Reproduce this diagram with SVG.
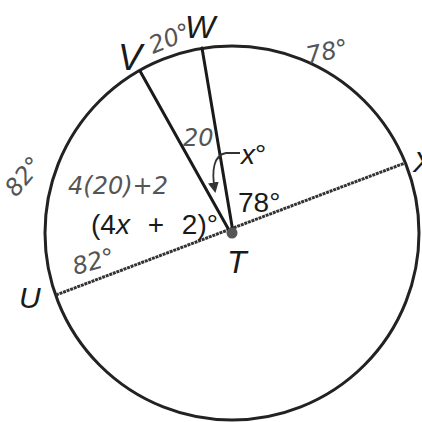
<svg xmlns="http://www.w3.org/2000/svg" width="422" height="422" viewBox="0 0 422 422">
<style>
.pt{font-family:"Liberation Sans",Arial,sans-serif;font-style:italic;fill:#1a1a1a}
.lbl{font-family:"Liberation Sans",Arial,sans-serif;font-size:28px;fill:#1a1a1a}
.hw{font-family:"DejaVu Sans","Liberation Sans",sans-serif;font-size:24px;fill:#555;font-style:italic}
.rad{stroke:#1a1a1a;stroke-width:3;fill:none;stroke-linecap:round}
</style>
<defs>
<marker id="ah" viewBox="0 0 10 10" refX="8" refY="5" markerWidth="6" markerHeight="6" orient="auto">
<path d="M0,0 L10,5 L0,10 z" fill="#333"/>
</marker>
</defs>
<rect width="422" height="422" fill="#fff"/>
<g id="circle">
<circle cx="232" cy="233" r="187" fill="none" stroke="#222" stroke-width="3"/>
</g>
<g id="connectors">
<line x1="56" y1="295" x2="405" y2="163" stroke="#333" stroke-width="3" stroke-dasharray="3 0.8"/>
<line class="rad" x1="140" y1="71" x2="230" y2="232"/>
<line class="rad" x1="202" y1="48" x2="233" y2="232"/>
<path d="M240 153 H226 C214 155 211 170 215 191" fill="none" stroke="#333" stroke-width="1.8" marker-end="url(#ah)"/>
</g>
<g id="node-T">
<circle cx="232" cy="233" r="5.5" fill="#555"/>
<text class="pt" x="227" y="273" font-size="32">T</text>
</g>
<g id="node-V"><text class="pt" x="118" y="70" font-size="36">V</text></g>
<g id="node-W"><text class="pt" x="185" y="38" font-size="32">W</text></g>
<g id="node-U"><text class="pt" x="19" y="308" font-size="30">U</text></g>
<g id="node-X"><text class="pt" x="413" y="172" font-size="30">X</text></g>
<g id="labels">
<text class="lbl" x="238" y="212">78°</text>
<text class="lbl" x="91" y="234" word-spacing="10">(4<tspan font-style="italic">x</tspan> + 2)°</text>
<text class="lbl" x="241" y="164"><tspan font-style="italic">x</tspan>°</text>
<text class="hw" x="0" y="0" transform="translate(153,54) rotate(-22)">20°</text>
<text class="hw" x="0" y="0" transform="translate(308,64) rotate(-12)" font-size="27">78°</text>
<text class="hw" x="0" y="0" transform="translate(16,198) rotate(-50)" font-size="27">82°</text>
<text class="hw" x="68" y="194">4(20)+2</text>
<text class="hw" x="183" y="146" font-size="20">20</text>
<text class="hw" x="0" y="0" transform="translate(75,275) rotate(-15)" font-size="27">82°</text>
</g>
</svg>
